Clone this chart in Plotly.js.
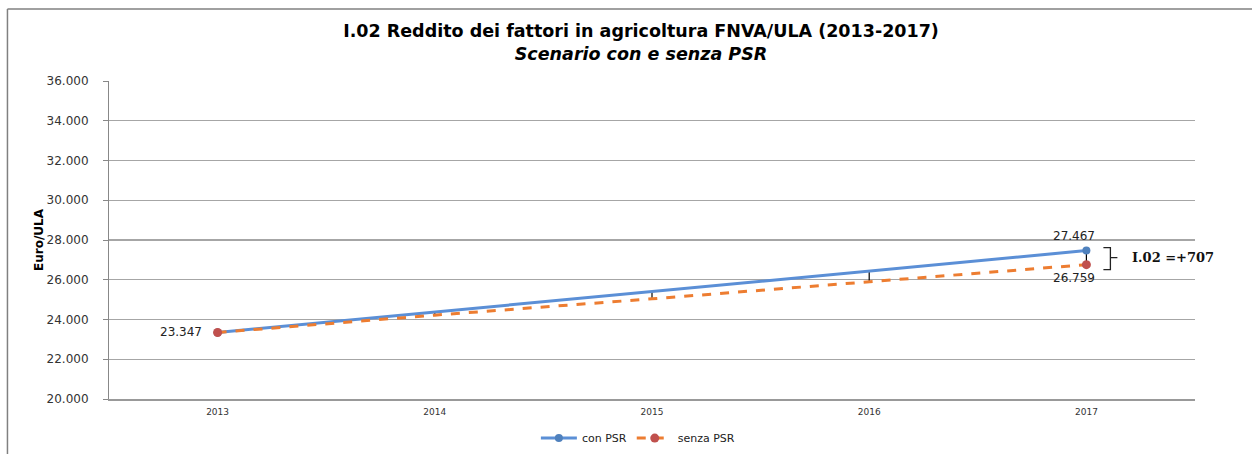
<!DOCTYPE html>
<html><head><meta charset="utf-8">
<script src="https://cdn.plot.ly/plotly-3.0.1.min.js"></script>
<style>html,body{margin:0;padding:0;background:#fff}#chart{width:1252px;height:454px}</style>
</head><body><div id="chart"></div>
<script>
var years = ['2013','2014','2015','2016','2017'];
var conPSR = [23347, 24370, 25400, 26440, 27467];
var senzaPSR = [23347, 24220, 25040, 25890, 26759];
var yTicks = [20000,22000,24000,26000,28000,30000,32000,34000,36000];
var yTickText = ['20.000','22.000','24.000','26.000','28.000','30.000','32.000','34.000','36.000'];
var diffLabel = 'I.02 =+707';

function fmt(v){return String(v).replace(/\B(?=(\d{3})+(?!\d))/g,'.');}
var last = years.length-1;

var hlx=[], hly=[];
for (var i=1;i<years.length;i++){hlx.push(years[i],years[i],null);hly.push(senzaPSR[i],conPSR[i],null);}

function endColors(c){return years.map(function(_,i){return (i===0||i===last)?c:'rgba(0,0,0,0)';});}

var traces = [
 {x:hlx,y:hly,mode:'lines',line:{color:'#000',width:1.2},showlegend:false,hoverinfo:'skip'},
 {x:years,y:conPSR,name:'con PSR',mode:'lines+markers',line:{color:'#5B8FD6',width:3},
  marker:{color:endColors('#4F81BD'),size:8}},
 {x:years,y:senzaPSR,name:'senza PSR',mode:'lines+markers',line:{color:'#ED7D31',width:3,dash:'dash'},
  marker:{color:endColors('#C0504D'),size:9}}
];

var midY = (conPSR[last]+senzaPSR[last])/2;
var annFont = {family:'Tahoma, "DejaVu Sans", sans-serif',size:12,color:'#222'};
var layout = {
 width:1252,height:454,
 margin:{l:109,r:57,t:81,b:55},
 paper_bgcolor:'#fff',plot_bgcolor:'#fff',
 title:{text:'<b>I.02 Reddito dei fattori in agricoltura FNVA/ULA (2013-2017)</b><br><b><i>Scenario con e senza PSR</i></b>',
  font:{family:'"DejaVu Sans",sans-serif',size:17.5,color:'#000',lineposition:'none'},x:0.512,xanchor:'center',yref:'container',y:0.918,yanchor:'middle'},
 xaxis:{type:'category',categoryorder:'array',categoryarray:years,range:[-0.5,4.5],showgrid:false,showline:true,linecolor:'#999',linewidth:1.5,ticks:'',zeroline:false,
  ticklabelstandoff:4,tickfont:{family:'Tahoma, "DejaVu Sans", sans-serif',size:9,color:'#333'},fixedrange:true},
 yaxis:{range:[20000,36000],tickvals:yTicks,ticktext:yTickText,showgrid:true,gridcolor:'#A6A6A6',gridwidth:1.2,
  showline:true,linecolor:'#888',linewidth:1,ticks:'outside',ticklen:5,tickcolor:'#888',zeroline:false,
  ticklabelstandoff:12,tickfont:{family:'Tahoma, "DejaVu Sans", sans-serif',size:12,color:'#333'},
  title:{text:'<b>Euro/ULA</b>',font:{family:'Tahoma, "DejaVu Sans", sans-serif',size:12,color:'#000'},standoff:0},fixedrange:true},
 showlegend:true,
 legend:{orientation:'h',x:0.487,xanchor:'center',yref:'container',y:0.035,yanchor:'middle',font:{family:'Tahoma, "DejaVu Sans", sans-serif',size:11,color:'#222'},itemwidth:36,tracegroupgap:0},
 annotations:[
  {x:0,y:conPSR[0],text:fmt(conPSR[0]),showarrow:false,xanchor:'right',xshift:-14,font:annFont},
  {x:last,y:conPSR[last],text:fmt(conPSR[last]),showarrow:false,yanchor:'bottom',yshift:6,xshift:-12,font:annFont},
  {x:last,y:senzaPSR[last],text:fmt(senzaPSR[last]),showarrow:false,yanchor:'top',yshift:-4,xshift:-12,font:annFont},
  {x:last,y:midY,text:'<b>'+diffLabel+'</b>',showarrow:false,xanchor:'left',xshift:44,
   font:{family:'"DejaVu Serif",serif',size:13,color:'#111'}}
 ],
 shapes:[
  {type:'line',xref:'paper',yref:'paper',x0:-0.0935,x1:1.06,y0:1.2264,y1:1.2264,line:{color:'#808080',width:1.5}},
  {type:'line',xref:'paper',yref:'paper',x0:-0.0935,x1:-0.0935,y0:1.2264,y1:-0.3,line:{color:'#808080',width:1.5}},
  {type:'path',xref:'x',yref:'y',xsizemode:'pixel',xanchor:last,
   path:'M17,'+(conPSR[last]+150)+' L24,'+(conPSR[last]+150)+' L24,'+midY+' L31,'+midY+' M24,'+midY+' L24,'+(senzaPSR[last]-250)+' L17,'+(senzaPSR[last]-250),
   line:{color:'#222',width:1.3}}
 ]
};
Plotly.newPlot('chart',traces,layout,{displayModeBar:false,staticPlot:true});
</script></body></html>
